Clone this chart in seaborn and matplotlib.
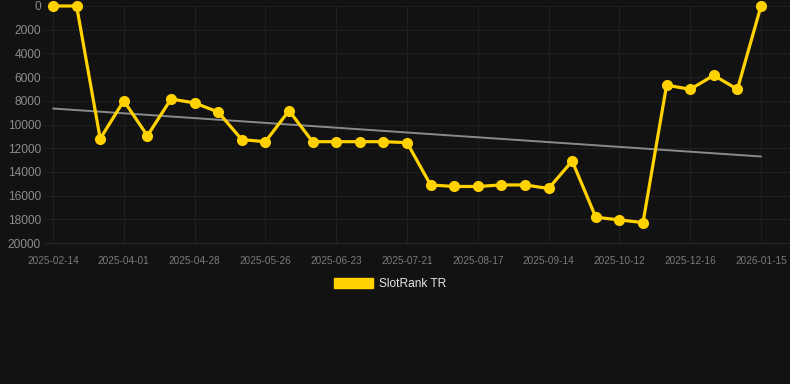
import matplotlib
matplotlib.use("Agg")
import matplotlib.pyplot as plt
import matplotlib.patches as mpatches
import seaborn as sns
import pandas as pd
import numpy as np

# ---- data ----
ranks = [0, 0, 11200, 8000, 10950, 7850, 8180, 8950, 11280, 11450,
         8830, 11450, 11450, 11450, 11450, 11530, 15100, 15230, 15230, 15100,
         15100, 15400, 13080, 17830, 18050, 18280, 6680, 7030, 5850, 7030, 0]
tick_labels = ["2025-02-14", "2025-04-01", "2025-04-28", "2025-05-26", "2025-06-23",
               "2025-07-21", "2025-08-17", "2025-09-14", "2025-10-12", "2025-12-16",
               "2026-01-15"]
trend_values = [8650, 12700]
series_name = "SlotRank TR"

BG = "#121212"
GRID = "#1f1f1f"
AXISC = "#262626"
GOLD = "#FFD200"

sns.set_theme(style="dark")
plt.rcParams["font.family"] = ["Liberation Sans", "DejaVu Sans"]

df = pd.DataFrame({"idx": np.arange(len(ranks)), "rank": ranks})
trend_df = pd.DataFrame({"idx": [0, len(ranks) - 1], "rank": trend_values})

fig = plt.figure(figsize=(7.9, 3.84), dpi=100, facecolor=BG)
ax = fig.add_axes([45 / 790, 1 - 243 / 384, 1 - 45 / 790, (243 - 6) / 384])
ax.set_facecolor(BG)

sns.lineplot(data=trend_df, x="idx", y="rank", ax=ax, color="#8a8a8a", linewidth=1.4, zorder=2)
sns.lineplot(data=df, x="idx", y="rank", ax=ax, color=GOLD, linewidth=2.3,
             marker="o", markersize=8, markeredgewidth=0, zorder=3, clip_on=False)
for ln in ax.lines:
    ln.set_clip_on(False)

step = 23.6
ax.set_xlim(-8 / step, (len(ranks) - 1) + 29 / step)
ax.set_ylim(20000, 0)
ax.set_yticks(np.arange(0, 20001, 2000))
ax.set_yticklabels([str(v) for v in range(0, 20001, 2000)])
tick_pos = list(range(0, len(ranks), 3))
ax.set_xticks(tick_pos)
ax.set_xticklabels(tick_labels)

ax.grid(True, color=GRID, linewidth=0.8)
ax.tick_params(axis="y", colors="#8c8c8c", labelsize=8.6, length=0, pad=3)
ax.tick_params(axis="x", colors=AXISC, labelcolor="#7a7a7a", labelsize=7.2, length=7, width=0.8, pad=2)
for s in ["top", "right", "left"]:
    ax.spines[s].set_visible(False)
ax.spines["bottom"].set_color(AXISC)
ax.spines["bottom"].set_linewidth(0.8)
ax.set_xlabel("")
ax.set_ylabel("")

handle = mpatches.Patch(facecolor=GOLD, edgecolor=GOLD, label=series_name)
fig.legend(handles=[handle], loc="center", bbox_to_anchor=(390 / 790, 1 - 284 / 384),
           frameon=False, fontsize=8.6, labelcolor="#e6e6e6",
           handlelength=3.3, handleheight=0.9, handletextpad=0.5)

fig.savefig("out.png", dpi=100, facecolor=BG)
